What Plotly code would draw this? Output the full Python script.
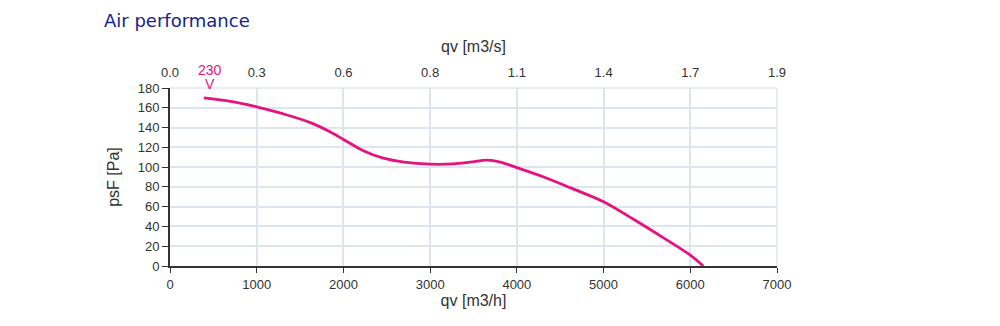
import plotly.graph_objects as go

# Data
qv_m3h = [390, 700, 1000, 1300, 1620, 1850, 2000, 2230, 2460, 2700, 3000, 3270, 3460,
          3660, 3810, 4000, 4310, 4620, 5000, 5350, 5700, 6000, 6150]
psf_pa = [170, 166.5, 161, 154, 145, 135.5, 128, 116.5, 109, 105, 103, 103.3, 105,
          107, 105, 99.5, 90, 79, 65, 47, 28, 11, 0]

x_ticks = [0, 1000, 2000, 3000, 4000, 5000, 6000, 7000]
x_top_labels = ["0.0", "0.3", "0.6", "0.8", "1.1", "1.4", "1.7", "1.9"]
y_ticks = [0, 20, 40, 60, 80, 100, 120, 140, 160, 180]
series_label_top = "230"
series_label_bottom = "V"

PINK = "#e5137f"
GRID = "#dfe5ee"
TXT = "#333333"
FONT = "Liberation Sans, Arial, sans-serif"

fig = go.Figure()
fig.add_trace(go.Scatter(x=qv_m3h, y=psf_pa, mode="lines",
                         line=dict(color=PINK, width=2.8, shape="spline", smoothing=0.9),
                         hoverinfo="skip", showlegend=False))
# invisible trace to activate top axis
fig.add_trace(go.Scatter(x=[x_ticks[0], x_ticks[-1]], y=[0, 0], xaxis="x2", mode="lines",
                         line=dict(width=0), hoverinfo="skip", showlegend=False))

fig.update_layout(
    width=1000, height=326,
    margin=dict(l=170, r=223, t=88, b=60),
    paper_bgcolor="white", plot_bgcolor="white",
    font=dict(family=FONT, color=TXT, size=13),
    xaxis=dict(range=[0, 7000], tickvals=x_ticks, ticks="outside", ticklen=5,
               tickcolor="#333", showline=True, linecolor="#333", linewidth=2,
               showgrid=True, gridcolor=GRID, gridwidth=1.5, zeroline=False,
               tickfont=dict(size=13, color=TXT),
               title=dict(text="qv [m3/h]", font=dict(size=16, color=TXT), standoff=3)),
    xaxis2=dict(range=[0, 7000], overlaying="x", side="top", tickvals=x_ticks,
                ticktext=x_top_labels, ticks="", showline=False, showgrid=False,
                zeroline=False, tickfont=dict(size=13, color=TXT), ticklabelstandoff=7,
                title=dict(text="qv [m3/s]", font=dict(size=16, color=TXT), standoff=8)),
    yaxis=dict(range=[0, 180], tickvals=y_ticks, ticks="outside", ticklen=6,
               tickcolor="#333", showline=True, linecolor="#333", linewidth=2,
               showgrid=True, gridcolor=GRID, gridwidth=1.5, zeroline=False,
               tickfont=dict(size=13, color=TXT),
               title=dict(text="psF [Pa]", font=dict(size=16, color=TXT), standoff=14)),
    shapes=[
        dict(type="line", xref="paper", yref="paper", x0=0, x1=1, y0=1, y1=1,
             line=dict(color=GRID, width=1.5), layer="below"),
        dict(type="line", xref="paper", yref="paper", x0=1, x1=1, y0=0, y1=1,
             line=dict(color=GRID, width=1.5), layer="below"),
    ],
    annotations=[
        dict(text="Air performance", xref="paper", yref="paper", x=-0.112, y=1.0,
             yshift=68, xanchor="left", yanchor="middle", showarrow=False,
             font=dict(size=18, color="#13248a", family="DejaVu Sans, sans-serif")),
        dict(text=series_label_top, x=qv_m3h[0], y=180, xref="x", yref="y",
             xshift=6, yshift=18, xanchor="center", yanchor="middle", showarrow=False,
             font=dict(size=14, color=PINK, family=FONT)),
        dict(text=series_label_bottom, x=qv_m3h[0], y=180, xref="x", yref="y",
             xshift=6, yshift=4, xanchor="center", yanchor="middle", showarrow=False,
             font=dict(size=14, color=PINK, family=FONT)),
    ],
)

fig.write_html("out.html")
